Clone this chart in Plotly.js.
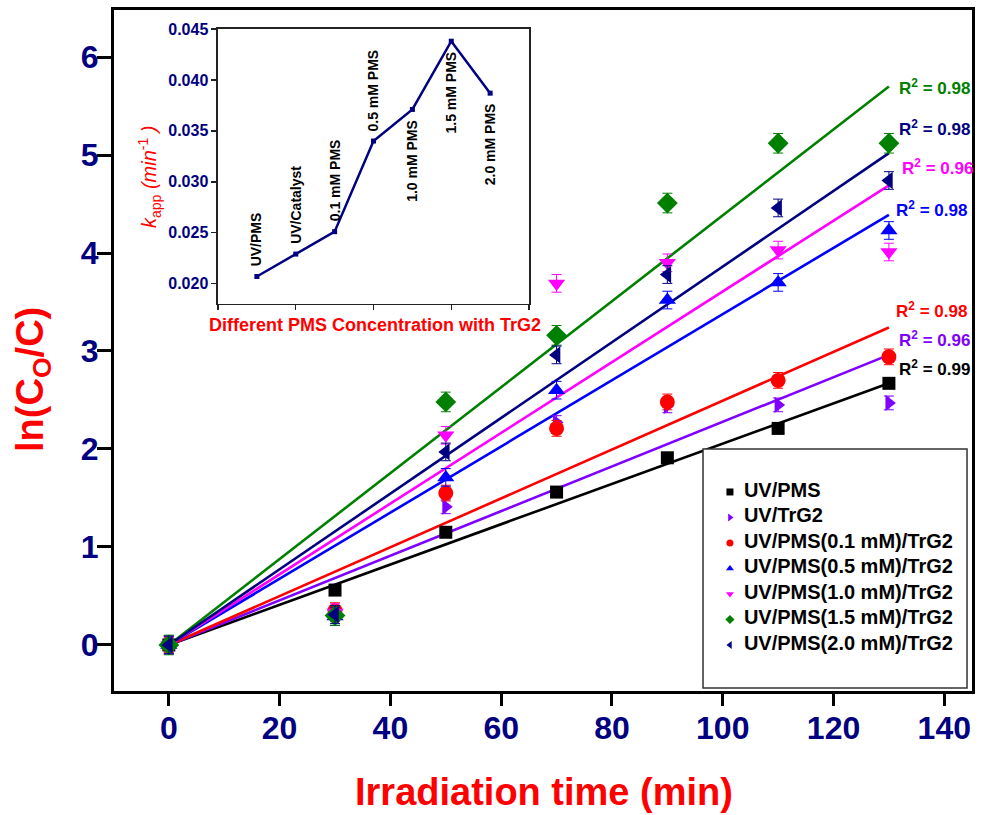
<!DOCTYPE html>
<html>
<head>
<meta charset="utf-8">
<script src="https://cdn.plot.ly/plotly-3.0.1.min.js"></script>
<style>html,body{margin:0;padding:0;background:#fff;}#chart{width:984px;height:815px;}</style>
</head>
<body>
<div id="chart"></div>
<script>
// ---- data ----
const times = [0, 30, 50, 70, 90, 110, 130];
const seriesNames = ['UV/PMS', 'UV/TrG2', 'UV/PMS(0.1 mM)/TrG2', 'UV/PMS(0.5 mM)/TrG2',
                     'UV/PMS(1.0 mM)/TrG2', 'UV/PMS(1.5 mM)/TrG2', 'UV/PMS(2.0 mM)/TrG2'];
const uvPms  = [0, 0.56, 1.15, 1.56, 1.91, 2.21, 2.67];
const uvTrG2 = [0, 0.33, 1.41, 2.27, 2.44, 2.45, 2.47];
const pms01  = [0, 0.35, 1.55, 2.21, 2.48, 2.70, 2.94];
const pms05  = [0, 0.29, 1.71, 2.60, 3.52, 3.70, 4.23];
const pms10  = [0, 0.33, 2.14, 3.69, 3.90, 4.03, 4.01];
const pms15  = [0, 0.30, 2.48, 3.16, 4.51, 5.12, 5.12];
const pms20  = [0, 0.31, 1.97, 2.96, 3.78, 4.46, 4.74];
const errBars = [0.05, 0.07, 0.08, 0.09, 0.09, 0.10, 0.09];
// linear fit lines (value at t = 0 and t = 130)
const fitTimes = [0, 130];
const fitUvPms  = [0, 2.67];
const fitUvTrG2 = [0, 2.96];
const fitPms01  = [0, 3.24];
const fitPms05  = [0, 4.39];
const fitPms10  = [0, 4.69];
const fitPms15  = [0, 5.70];
const fitPms20  = [0, 5.02];
const r2Values = ['0.99', '0.96', '0.98', '0.98', '0.96', '0.98', '0.98'];
// inset
const insetLabels = ['UV/PMS', 'UV/Catalyst', '0.1 mM PMS', '0.5 mM PMS', '1.0 mM PMS', '1.5 mM PMS', '2.0 mM PMS'];
const insetK = [0.0207, 0.0229, 0.0251, 0.0340, 0.0371, 0.0438, 0.0387];
const insetYTicks = [0.020, 0.025, 0.030, 0.035, 0.040, 0.045];
const xTicks = [0, 20, 40, 60, 80, 100, 120, 140];
const yTicks = [0, 1, 2, 3, 4, 5, 6];

// ---- styles ----
const values = [uvPms, uvTrG2, pms01, pms05, pms10, pms15, pms20];
const fits = [fitUvPms, fitUvTrG2, fitPms01, fitPms05, fitPms10, fitPms15, fitPms20];
const colors = ['#000000', '#8000ff', '#ff0000', '#0000ff', '#ff00ff', '#008000', '#000080'];
const symbols = ['square', 'triangle-right', 'circle', 'triangle-up', 'triangle-down', 'diamond', 'triangle-left'];
const sizes = [13, 14, 15, 15, 15, 16, 15];
const r2Pos = [[131.5, 2.83], [131.5, 3.12], [131.0, 3.42], [131.0, 4.45], [132.0, 4.88], [131.5, 5.69], [131.5, 5.28]];
const insetLabelBelow = [false, false, false, false, true, true, true];
const FONT = 'Liberation Sans, Arial, sans-serif';
const NAVY = '#000080';

const traces = [];
// fit lines
fits.forEach((f, i) => {
  traces.push({x: fitTimes, y: f, mode: 'lines', line: {color: colors[i], width: 2.6},
    showlegend: false, hoverinfo: 'skip', xaxis: 'x', yaxis: 'y'});
});
// data points
values.forEach((v, i) => {
  traces.push({x: times, y: v, mode: 'markers', showlegend: false,
    marker: {symbol: symbols[i], size: sizes[i], color: colors[i]},
    error_y: {type: 'constant', value: errBars[i], color: colors[i], thickness: 1, width: 5},
    xaxis: 'x', yaxis: 'y'});
});
// legend (drawn on its own small axes inside the legend box)
const legendRows = seriesNames.map((_, i) => i);
seriesNames.forEach((nm, i) => {
  traces.push({x: [0.102], y: [legendRows[i]], mode: 'markers', showlegend: false,
    marker: {symbol: symbols[i], size: 7, color: colors[i]}, xaxis: 'x3', yaxis: 'y3'});
});
traces.push({x: legendRows.map(() => 0.155), y: legendRows, mode: 'text', text: seriesNames,
  textposition: 'middle right', showlegend: false,
  textfont: {family: FONT, size: 20, color: '#000', weight: 'bold'}, xaxis: 'x3', yaxis: 'y3'});
// inset
traces.push({x: insetLabels.map((_, i) => i), y: insetK, mode: 'lines+markers',
  line: {color: NAVY, width: 2.5}, marker: {symbol: 'square', size: 5, color: NAVY},
  showlegend: false, xaxis: 'x2', yaxis: 'y2'});

const annotations = [];
r2Values.forEach((r, i) => {
  annotations.push({xref: 'x', yref: 'y', x: r2Pos[i][0], y: r2Pos[i][1], xanchor: 'left', yanchor: 'middle',
    showarrow: false, text: 'R<sup>2</sup> = ' + r,
    font: {family: FONT, size: 17, color: colors[i], weight: 'bold'}});
});
insetLabels.forEach((lab, i) => {
  annotations.push({xref: 'x2', yref: 'y2', x: i, y: insetK[i], textangle: -90,
    xanchor: 'center', yanchor: insetLabelBelow[i] ? 'top' : 'bottom',
    yshift: insetLabelBelow[i] ? -8 : 8, showarrow: false, text: lab,
    font: {family: FONT, size: 14, color: '#000', weight: 'bold'}});
});
// axis titles
annotations.push({xref: 'paper', yref: 'paper', x: 0.5006, y: -0.148, xanchor: 'center', yanchor: 'middle',
  showarrow: false, text: 'Irradiation time (min)', font: {family: FONT, size: 38, color: '#ff0000', weight: 'bold'}});
annotations.push({xref: 'paper', yref: 'paper', x: -0.0944, y: 0.4567, xanchor: 'center', yanchor: 'middle',
  textangle: -90, showarrow: false, text: 'ln(C<sub>O</sub>/C)', font: {family: FONT, size: 38, color: '#ff0000', weight: 'bold'}});
annotations.push({xref: 'paper', yref: 'paper', x: 0.3042, y: 0.5374, xanchor: 'center', yanchor: 'middle',
  showarrow: false, text: 'Different PMS Concentration with TrG2', font: {family: FONT, size: 18, color: '#ff0000', weight: 'bold'}});
annotations.push({xref: 'paper', yref: 'paper', x: 0.042, y: 0.7548, xanchor: 'center', yanchor: 'middle',
  textangle: -90, showarrow: false, text: '<i>k</i><sub>app</sub> <i>(min</i><sup>-1</sup><i> )</i>',
  font: {family: 'Liberation Sans', size: 20, color: '#ff0000'}});

const layout = {
  width: 984, height: 815,
  margin: {l: 114, r: 12, t: 10, b: 124},
  paper_bgcolor: '#fff', plot_bgcolor: '#fff',
  showlegend: false,
  xaxis: {range: [-9.9, 145], tickvals: xTicks, ticks: 'outside', ticklen: 12, tickwidth: 3, tickcolor: '#000',
    showline: true, linewidth: 3, linecolor: '#000', mirror: true, showgrid: false, zeroline: false,
    tickfont: {family: FONT, size: 32, color: NAVY, weight: 'bold'}, ticklabelstandoff: -5},
  yaxis: {range: [-0.47, 6.48], tickvals: yTicks, ticks: 'outside', ticklen: 14, tickwidth: 3, tickcolor: '#000',
    showline: true, linewidth: 3, linecolor: '#000', mirror: true, showgrid: false, zeroline: false,
    tickfont: {family: FONT, size: 32, color: NAVY, weight: 'bold'}, ticklabelstandoff: -8},
  xaxis2: {domain: [0.1212, 0.4837], anchor: 'y2', range: [-1, 7], tickvals: [-1, 1, 3, 5, 7], showticklabels: false,
    ticks: 'outside', ticklen: 5, tickwidth: 1.5, tickcolor: '#222', showline: true, linewidth: 1.5, linecolor: '#222',
    mirror: true, showgrid: false, zeroline: false},
  yaxis2: {domain: [0.5683, 0.9721], anchor: 'x2', range: [0.018, 0.045], tickvals: insetYTicks, tickformat: '.3f',
    ticks: 'outside', ticklen: 5, tickwidth: 1.5, tickcolor: '#222', showline: true, linewidth: 1.5, linecolor: '#222',
    mirror: true, showgrid: false, zeroline: false,
    tickfont: {family: FONT, size: 16, color: NAVY, weight: 'bold'}},
  xaxis3: {domain: [0.6865, 0.9942], anchor: 'y3', range: [0, 1], visible: false, fixedrange: true},
  yaxis3: {domain: [0.0044, 0.3554], anchor: 'x3', range: [7.686, -1.686], visible: false, fixedrange: true},
  shapes: [{type: 'rect', xref: 'paper', yref: 'paper', x0: 0.6865, x1: 0.9942, y0: 0.0044, y1: 0.3554,
    line: {color: '#333', width: 1.5}, fillcolor: 'rgba(0,0,0,0)'}],
  annotations: annotations
};
Plotly.newPlot('chart', traces, layout, {displayModeBar: false, staticPlot: true});
</script>
</body>
</html>
